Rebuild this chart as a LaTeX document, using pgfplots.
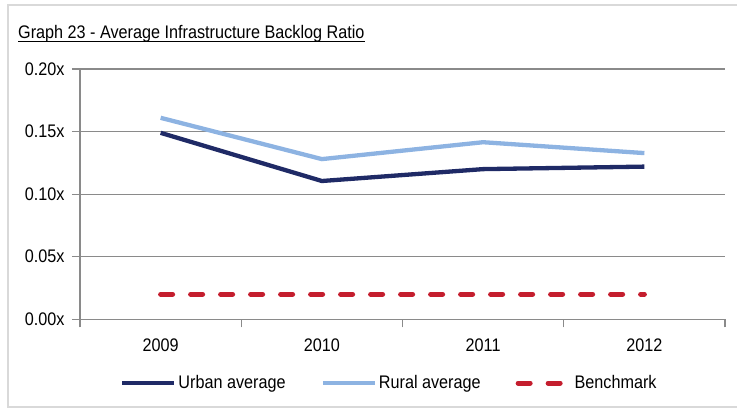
\documentclass[border=0pt]{standalone}
\usepackage{fontspec}
\setmainfont{Liberation Sans}[FakeStretch=0.89]
\usepackage{pgfplots}
\pgfplotsset{compat=1.18}
\definecolor{urban}{HTML}{1F2A66}
\definecolor{rural}{HTML}{8DB3E2}
\definecolor{bench}{HTML}{C41E2E}
\definecolor{gridc}{HTML}{8A8A8A}
\begin{document}
\begin{tikzpicture}[font=\fontsize{18.2bp}{21bp}\selectfont]
\useasboundingbox (0,0) rectangle (737bp,410bp);
\draw[black!15, line width=1.5bp] (8bp,3bp) rectangle (745bp,405bp);
\node[anchor=base west, inner sep=0] (t) at (18bp,371bp) {Graph 23 - Average Infrastructure Backlog Ratio};
\draw[line width=1.1bp] ([yshift=-2.6bp]t.base west) -- ([yshift=-2.6bp]t.base east);
\begin{axis}[at={(80bp,90.7bp)}, anchor=south west, width=645bp, height=250.3bp, scale only axis,
  xmin=-0.5, xmax=3.5, ymin=0, ymax=0.2,
  axis lines*=left,
  axis line style={gridc, line width=1.2bp, -},
  ymajorgrids, grid style={gridc, line width=1.2bp},
  ytick={0,0.05,0.1,0.15,0.2},
  yticklabels={0.00x,0.05x,0.10x,0.15x,0.20x},
  xtick={0,1,2,3},
  xticklabels={2009,2010,2011,2012},
  minor xtick={-0.5,0.5,1.5,2.5,3.5},
  tick align=outside,
  major tick length=8bp, minor tick length=8bp,
  major x tick style={draw=none},
  minor x tick style={gridc, line width=1.2bp},
  major y tick style={gridc, line width=1.2bp},
  /pgf/number format/assume math mode=true,
  ticklabel style={font=\fontsize{18.2bp}{21bp}\selectfont},
  yticklabel style={xshift=-4bp},
  xticklabel style={yshift=-8bp},
  legend columns=3,
  legend style={draw=none, fill=none, inner sep=0pt, at={(0.062,-0.2545)}, anchor=west,
    font=\fontsize{18.2bp}{21bp}\selectfont,
    /tikz/every odd column/.append style={column sep=0bp},
    /tikz/every even column/.append style={column sep=33bp}},
  legend image code/.code={\draw[#1] (0bp,0bp) -- (52bp,0bp);},
  clip=false,
]
\addplot[urban, line width=4.3bp] coordinates {(0,0.149) (1,0.1105) (2,0.120) (3,0.122)};
\addlegendentry{Urban average}
\addplot[rural, line width=4.3bp] coordinates {(0,0.161) (1,0.128) (2,0.1415) (3,0.1328)};
\addlegendentry{Rural average}
\addplot[bench, line width=5bp, line cap=round, dash pattern=on 12bp off 18bp] coordinates {(0,0.02) (1,0.02) (2,0.02) (3,0.02)};
\addlegendentry{Benchmark}
\end{axis}
\end{tikzpicture}
\end{document}
